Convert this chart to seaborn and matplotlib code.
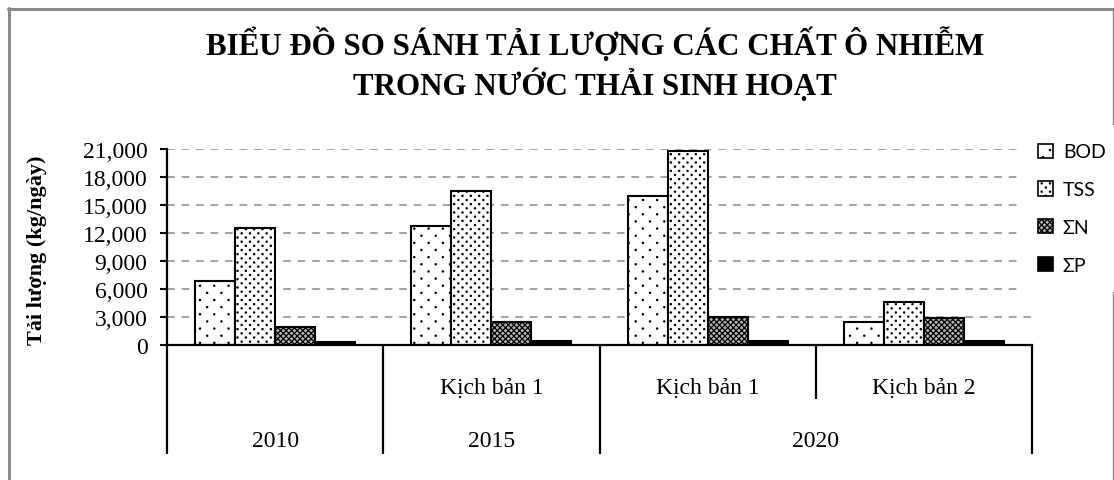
import matplotlib
matplotlib.use("Agg")
import numpy as np
import matplotlib.pyplot as plt
import matplotlib.hatch as mhatch
import matplotlib.transforms as mtransforms
from matplotlib.path import Path
from matplotlib.lines import Line2D
from matplotlib.patches import Patch
from matplotlib.ticker import FuncFormatter
import seaborn as sns
import pandas as pd

# Daily pollutant loads (kg/day) per period / scenario
periods = ["2010", "2015", "2020", "2020"]
scenarios = ["", "Kịch bản 1", "Kịch bản 1", "Kịch bản 2"]
pollutants = ["BOD", "TSS", "ΣN", "ΣP"]
bod = [6800, 12700, 15900, 2500]
tss = [12500, 16500, 20700, 4600]
total_n = [1900, 2500, 3000, 2850]
total_p = [300, 400, 450, 400]
y_ticks = [0, 3000, 6000, 9000, 12000, 15000, 18000, 21000]

title_line1 = "BIỂU ĐỒ SO SÁNH TẢI LƯỢNG CÁC CHẤT Ô NHIỄM"
title_line2 = "TRONG NƯỚC THẢI SINH HOẠT"
ylabel_text = "Tải lượng (kg/ngày)"


class DotLattice(mhatch.HatchPatternBase):
    """Staggered dot texture: rows at half the in-row dot spacing."""
    radius = 0.006

    def __init__(self, hatch, density):
        n = hatch.count('.')
        self.cols = 0 if n == 0 else (7 if n == 1 else 6 * n)
        self.rows = 2 * self.cols
        circle = Path.unit_circle()
        self.shape_vertices = circle.vertices
        self.shape_codes = circle.codes
        if self.cols == 0:
            self.num_vertices = 0
        else:
            n_shapes = ((self.rows // 2 + 1) * (self.cols + 1)
                        + (self.rows // 2) * self.cols)
            self.num_vertices = n_shapes * len(self.shape_vertices)

    def set_vertices_and_codes(self, vertices, codes):
        dx = 1.0 / self.cols
        dy = 1.0 / self.rows
        sv = self.shape_vertices * self.radius
        vparts, cparts = [], []
        for r in range(self.rows + 1):
            if r % 2 == 0:
                xs = np.linspace(0, 1, self.cols + 1)
            else:
                xs = np.linspace(dx / 2, 1 - dx / 2, self.cols)
            for x in xs:
                vparts.append(sv + [x, r * dy])
                cparts.append(self.shape_codes)
        np.concatenate(vparts, out=vertices)
        np.concatenate(cparts, out=codes)


mhatch._hatch_types[:] = [t for t in mhatch._hatch_types
                          if t is not mhatch.SmallFilledCircles] + [DotLattice]

keys = [f"{p} {s}".strip() for p, s in zip(periods, scenarios)]
series = {"BOD": bod, "TSS": tss, "ΣN": total_n, "ΣP": total_p}
rows = []
for name in pollutants:
    for k, v in zip(keys, series[name]):
        rows.append({"group": k, "pollutant": name, "value": v})
df = pd.DataFrame(rows)

sns.set_theme(style="white")
plt.rcParams["font.family"] = ["Liberation Serif", "DejaVu Serif"]
plt.rcParams["hatch.linewidth"] = 0.9

W, H = 1114, 481
fig = plt.figure(figsize=(W / 100, H / 100), dpi=100)
ax_l, ax_r, ax_t, ax_b = 167, 1032, 149.5, 346
ax = fig.add_axes([ax_l / W, 1 - ax_b / H, (ax_r - ax_l) / W, (ax_b - ax_t) / H])

face = {"BOD": "white", "TSS": "white", "ΣN": "#b4b4b4", "ΣP": "black"}
hatch = {"BOD": ".", "TSS": "..", "ΣN": "xxxxxx", "ΣP": ""}

sns.barplot(data=df, x="group", y="value", hue="pollutant", order=keys,
            hue_order=pollutants, palette=face, saturation=1, width=0.74,
            edgecolor="black", linewidth=1.5, legend=False, ax=ax)

for name, cont in zip(pollutants, ax.containers):
    for bar in cont:
        bar.set_hatch(hatch[name])
        bar.set_edgecolor("black")

ax.set_xlim(-0.5, 3.5)
ax.set_ylim(0, 21000)
ax.set_yticks(y_ticks)
ax.yaxis.set_major_formatter(FuncFormatter(lambda v, _: f"{int(v):,}"))
ax.set_xticks([])
ax.set_xlabel("")
ax.set_ylabel("")
ax.tick_params(axis="y", direction="out", length=5, width=1.5, color="black",
               labelsize=17, pad=9, left=True)
for lab in ax.get_yticklabels():
    lab.set_color("black")

for side in ["top", "right"]:
    ax.spines[side].set_visible(False)
for side in ["left", "bottom"]:
    ax.spines[side].set_visible(True)
    ax.spines[side].set_color("black")
    ax.spines[side].set_linewidth(1.6)

ax.yaxis.grid(True, linestyle=(0, (5, 4.5)), color="#888888", linewidth=1.1)
ax.set_axisbelow(True)

# Two-level category axis below the plot
ax_h = ax_b - ax_t
blend = mtransforms.blended_transform_factory(ax.transData, ax.transAxes)
for x, depth in [(-0.5, 109), (0.5, 109), (1.5, 109), (2.5, 54), (3.5, 109)]:
    ax.plot([x, x], [0, -depth / ax_h], color="black", lw=1.6,
            transform=blend, clip_on=False, solid_capstyle="butt")
y_scen = -(388 - ax_b) / ax_h
y_year = -(442 - ax_b) / ax_h
for i, s in enumerate(scenarios):
    if s:
        ax.text(i, y_scen, s, transform=blend, ha="center", va="center",
                fontsize=17, color="black")
for x, yr in [(0, "2010"), (1, "2015"), (2.5, "2020")]:
    ax.text(x, y_year, yr, transform=blend, ha="center", va="center",
            fontsize=17, color="black")

# Legend
handles = [Patch(facecolor=face[n], edgecolor="black", hatch=hatch[n], linewidth=1.2)
           for n in pollutants]
leg = fig.legend(handles, pollutants, loc="upper left",
                 bbox_to_anchor=(1020 / W, 1 - 126 / H),
                 prop={"family": ["Lato", "DejaVu Sans"], "size": 14},
                 frameon=True, fancybox=False, edgecolor="none", facecolor="white",
                 framealpha=1, handlelength=0.75, handleheight=0.75,
                 handletextpad=0.5, labelspacing=1.07, borderpad=0.95,
                 borderaxespad=0)
for t in leg.get_texts():
    t.set_color("black")

# Titles
fig.text(595 / W, 1 - 45 / H, title_line1, ha="center", va="center",
         fontsize=22.3, fontweight="bold", color="black")
fig.text(595 / W, 1 - 85 / H, title_line2, ha="center", va="center",
         fontsize=22.3, fontweight="bold", color="black")
fig.text(37 / W, 1 - 250 / H, ylabel_text, rotation=90, ha="center", va="center",
         fontsize=16, fontweight="bold", color="black")

# Chart-area border
border = "#8a8a8a"
fig.add_artist(Line2D([8.5 / W, 8.5 / W], [0, 1 - 9 / H], color=border, lw=2.2,
                      transform=fig.transFigure))
fig.add_artist(Line2D([7.5 / W, 1113 / W], [1 - 10 / H, 1 - 10 / H], color=border,
                      lw=2.2, transform=fig.transFigure))
fig.add_artist(Line2D([1112.5 / W, 1112.5 / W], [0, 1 - 10 / H], color=border, lw=1.0,
                      transform=fig.transFigure))

fig.savefig("out.png", dpi=100, facecolor="white")
